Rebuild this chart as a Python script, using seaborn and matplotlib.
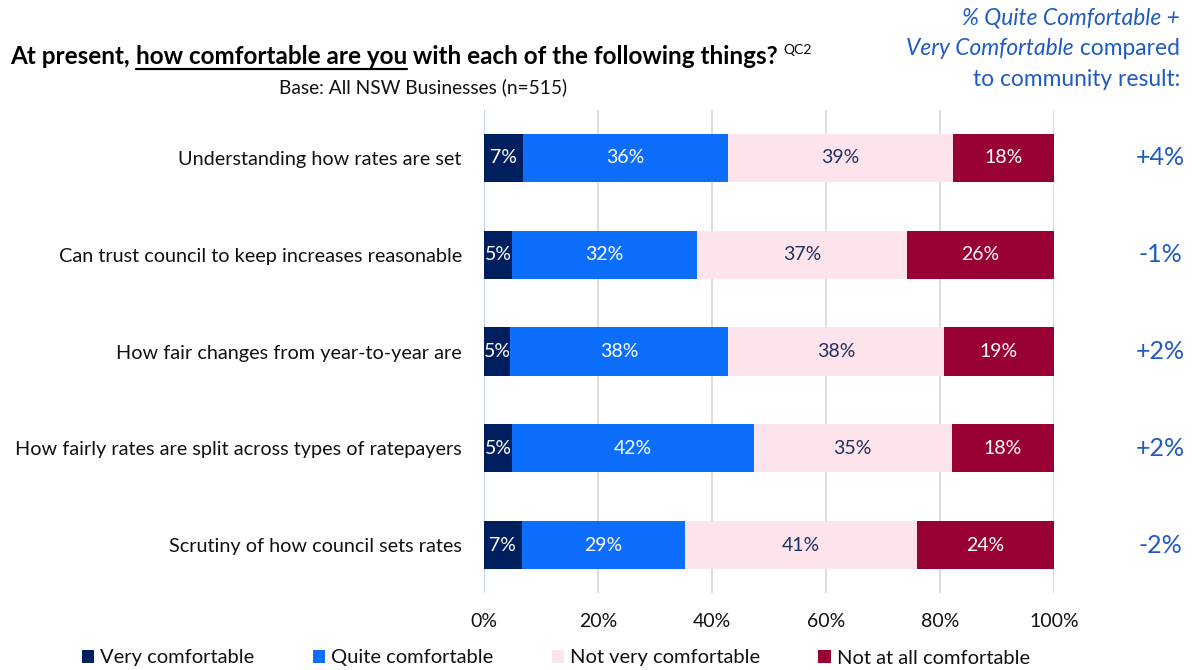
import matplotlib
matplotlib.use("Agg")
import matplotlib.pyplot as plt
import seaborn as sns
import pandas as pd
import numpy as np
from matplotlib.patches import Patch

categories = [
    "Understanding how rates are set",
    "Can trust council to keep increases reasonable",
    "How fair changes from year-to-year are",
    "How fairly rates are split across types of ratepayers",
    "Scrutiny of how council sets rates",
]
very_comfortable = [6.8, 4.9, 4.6, 4.9, 6.6]
quite_comfortable = [36.0, 32.4, 38.2, 42.4, 28.6]
not_very_comfortable = [39.4, 36.9, 37.9, 34.8, 40.8]
not_at_all_comfortable = [17.8, 25.8, 19.3, 17.9, 24.0]
community_diff = ["+4%", "-1%", "+2%", "+2%", "-2%"]
series_names = ["Very comfortable", "Quite comfortable", "Not very comfortable", "Not at all comfortable"]
tick_values = [0, 20, 40, 60, 80, 100]

colors = ["#001F5F", "#0D6EFD", "#FDE4EC", "#990033"]
text_colors = ["white", "white", "#1F3064", "white"]
blue_note = "#1F5BC0"

sns.set_theme(style="white")
plt.rcParams["font.family"] = ["Lato", "DejaVu Sans"]

fig = plt.figure(figsize=(11.94, 6.70), dpi=100)
ax = fig.add_axes([484 / 1194, 1 - 593.4 / 670, (1054 - 484) / 1194, (593.4 - 109.6) / 670])

series = [very_comfortable, quite_comfortable, not_very_comfortable, not_at_all_comfortable]
cums = np.cumsum(np.array(series), axis=0)

for i in range(3, -1, -1):
    df = pd.DataFrame({"cat": categories, "val": cums[i]})
    sns.barplot(data=df, x="val", y="cat", color=colors[i], orient="h", width=0.5,
                ax=ax, saturation=1, order=categories, zorder=3, edgecolor="none")

for i in range(4):
    for r in range(len(categories)):
        v = series[i][r]
        center = cums[i][r] - v / 2
        ax.text(center, r, f"{v:.0f}%", ha="center", va="center", fontsize=14,
                color=text_colors[i], zorder=5)

ax.set_xlim(0, 100)
ax.set_ylim(4.5, -0.5)
ax.set_xticks(tick_values)
ax.set_xticklabels([f"{t}%" for t in tick_values], fontsize=14, color="#111111")
ax.tick_params(axis="x", pad=14, length=0)
ax.tick_params(axis="y", pad=16, length=0, labelsize=14.3, labelcolor="#111111")
ax.set_xlabel("")
ax.set_ylabel("")
for s in ax.spines.values():
    s.set_visible(False)
ax.xaxis.grid(True, color="#D9D9D9", linewidth=1.3, zorder=0)
ax.axvline(0, color="#C0D0F2", linewidth=1.5, zorder=1)
ax.set_axisbelow(True)

blend = matplotlib.transforms.blended_transform_factory(fig.transFigure, ax.transData)
for r, t in enumerate(community_diff):
    ax.text(1160 / 1194, r, t, transform=blend, ha="center", va="center", fontsize=18, color=blue_note)

fig.canvas.draw()
renderer = fig.canvas.get_renderer()
parts = [("At present, ", False), ("how comfortable are you", True), (" with each of the following things?", False)]
x = 10 / 1194
y = 1 - 64 / 670
for txt, underline in parts:
    t = fig.text(x, y, txt, fontsize=17.5, fontweight="bold", color="black", ha="left", va="baseline")
    bb = t.get_window_extent(renderer=renderer)
    x0 = bb.x0 / fig.bbox.width
    x1 = bb.x1 / fig.bbox.width
    if underline:
        fig.add_artist(plt.Line2D([x0, x1], [y - 5 / 670, y - 5 / 670], transform=fig.transFigure,
                                  color="black", linewidth=1.6))
    x = x1
fig.text(x + 6 / 1194, 1 - 54 / 670, "QC2", fontsize=10, color="black", ha="left", va="baseline")
fig.text(423 / 1194, 1 - 93 / 670, "Base: All NSW Businesses (n=515)", fontsize=13.8,
         ha="center", va="baseline", color="#111111")

right = 1180 / 1194
lines = [
    [("% Quite Comfortable +", "italic")],
    [("Very Comfortable", "italic"), (" compared", "normal")],
    [("to community result:", "normal")],
]
baselines = [24, 55, 86]
for segs, base in zip(lines, baselines):
    xr = right
    for txt, style in reversed(segs):
        t = fig.text(xr, 1 - base / 670, txt, fontsize=16.4, style=style, color=blue_note,
                     ha="right", va="baseline")
        bb = t.get_window_extent(renderer=renderer)
        xr = bb.x0 / fig.bbox.width

handles = [Patch(facecolor=c, edgecolor="none") for c in colors]
fig.legend(handles, series_names, loc="center", bbox_to_anchor=(556 / 1194, 1 - 658 / 670), ncol=4,
           frameon=False, fontsize=14.5, handlelength=0.6, handleheight=0.6, handletextpad=0.3,
           columnspacing=2.9, labelcolor="#111111")

fig.savefig("out.png", dpi=100)
